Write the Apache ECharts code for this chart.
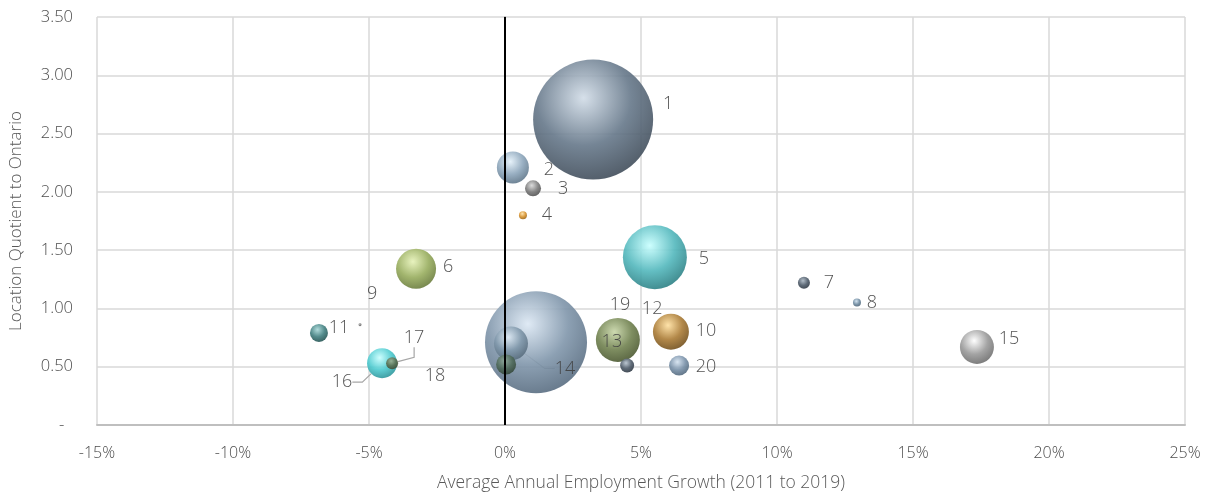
<!DOCTYPE html>
<html><head><meta charset="utf-8">
<script src="https://cdn.jsdelivr.net/npm/echarts@6/dist/echarts.min.js"></script>
<style>html,body{margin:0;padding:0;background:#fff}#c{width:1209px;height:495px}</style>
</head><body><div id="c"></div>
<script>
// ---- data ----
const labels = ['1','2','3','4','5','6','7','8','9','10','11','12','13','14','15','16','17','18','19','20'];
const growth = [3.24, 0.29, 1.03, 0.66, 5.51, -3.27, 10.99, 12.94, -5.33, 6.10, -6.84, 4.49, 4.15, 0.22, 17.35, -4.52, -4.15, 0.04, 1.14, 6.40];
const lq     = [2.62, 2.21, 2.03, 1.80, 1.44, 1.34, 1.22, 1.05, 0.86, 0.80, 0.79, 0.51, 0.73, 0.70, 0.67, 0.53, 0.53, 0.52, 0.71, 0.51];
const size   = [10000, 711, 178, 44, 2844, 1111, 100, 44, 6, 900, 225, 136, 1344, 803, 803, 625, 100, 278, 7225, 278];
const xTicks = [-15, -10, -5, 0, 5, 10, 15, 20, 25];
const yTicks = [0, 0.5, 1, 1.5, 2, 2.5, 3, 3.5];

// ---- styles ----
const palette = [
  ['#d2dde8','#66788a','#3e4a57'], // 1
  ['#e4f1fa','#8ea7bc','#5c7386'], // 2
  ['#d8d8d8','#7c7c7c','#4c4c4c'], // 3
  ['#ffe2a8','#d8932e','#9a6414'], // 4
  ['#c8ffff','#53b8bd','#2a7c80'], // 5
  ['#e6f2b8','#98ad5e','#66783a'], // 6
  ['#aab6c2','#4e5b69','#2c3540'], // 7
  ['#cfe0ee','#708ca2','#4a6074'], // 8
  ['#bbbbbb','#777777','#555555'], // 9
  ['#ffe0a0','#ab7c36','#6e4c1a'], // 10
  ['#a8d8d8','#417f80','#22504f'], // 11
  ['#b4c0cc','#4e5b69','#2c3540'], // 12
  ['#c8d6a8','#718250','#48552e'], // 13
  ['#e0ecf6','#7f97aa','#55697a'], // 14
  ['#ffffff','#9a9a9a','#6a6a6a'], // 15
  ['#c8ffff','#4ecbd0','#2a9096'], // 16
  ['#9cae90','#5a6e50','#3a4a34'], // 17
  ['#8ea898','#4f6a5a','#324538'], // 18
  ['#dce8f4','#8096ab','#566a7e'], // 19
  ['#d4e2f0','#7890a8','#4e6478']  // 20
];
const labelOffsets = [
  [75,-16],[36,2],[30,1],[24,0],[49,2],[32,-2],[25,0],[15,0],[12,-31],[35,-1],
  [20,-5],[25,-57],[-6,2],[54,25],[32,-8],[-40,19],[22,-25],[-71,11],[84,-37],[27,1]
];
const withLine = {'14':true,'16':true,'17':true};

function grad(c){
  return {type:'radial', x:0.42, y:0.32, r:0.72, colorStops:[
    {offset:0, color:c[0]},{offset:0.55, color:c[1]},{offset:1, color:c[2]}]};
}

const order = labels.map((_,i)=>i).sort((a,b)=>size[b]-size[a]);
const data = order.map(i=>({
  name: labels[i],
  value: [growth[i], lq[i], size[i]],
  itemStyle: {color: grad(palette[i]), opacity: 0.9},
  labelLine: {show: !!withLine[labels[i]]}
}));

const chart = echarts.init(document.getElementById('c'), null, {renderer:'canvas'});
const font = '"Open Sans", "Noto Sans", sans-serif';
chart.setOption({
  animation:false,
  grid:{left:97, right:24, top:17, bottom:70, outerBoundsMode:'none', containLabel:false},
  xAxis:{
    type:'value', min:-15, max:25, interval:5,
    name:'Average Annual Employment Growth (2011 to 2019)',
    nameLocation:'middle', nameGap:49,
    nameTextStyle:{color:'#595959', fontSize:17.5, fontFamily:font, fontWeight:300},
    axisLine:{show:true, lineStyle:{color:'#bfbfbf', width:2}},
    axisTick:{show:false},
    axisLabel:{color:'#4d4d4d', fontSize:16, fontFamily:font, fontWeight:300, margin:20, formatter:v=>v+'%'},
    splitLine:{show:true, lineStyle:{color:'#d9d9d9', width:1.5}}
  },
  yAxis:{
    type:'value', min:0, max:3.5, interval:0.5,
    name:'Location Quotient to Ontario',
    nameLocation:'middle', nameGap:72,
    nameTextStyle:{color:'#595959', fontSize:17, fontFamily:font, fontWeight:300},
    axisLine:{show:true, lineStyle:{color:'#bfbfbf', width:2}},
    axisTick:{show:false},
    axisLabel:{color:'#4d4d4d', fontSize:16.5, fontFamily:font, fontWeight:300, margin:24,
      formatter:v=> v===0 ? '-\u00a0\u00a0' : v.toFixed(2)},
    splitLine:{show:true, lineStyle:{color:'#d9d9d9', width:1.5}}
  },
  series:[{
    type:'scatter',
    data:data,
    symbolSize:v=>Math.sqrt(v[2])*1.2,
    label:{show:true, position:'inside', formatter:'{b}', color:'#404040',
      fontSize:18, fontFamily:font, fontWeight:300},
    labelLine:{show:false, length2:10, lineStyle:{color:'#a6a6a6', width:1.2}},
    labelLayout:function(p){
      const idx = order[p.dataIndex];
      const o = labelOffsets[idx];
      return {dx:o[0], dy:o[1]};
    },
    markLine:{
      silent:true, symbol:'none', label:{show:false},
      lineStyle:{color:'#000', width:2, type:'solid'},
      data:[{xAxis:0}]
    },
    z:3
  }]
});
</script></body></html>
